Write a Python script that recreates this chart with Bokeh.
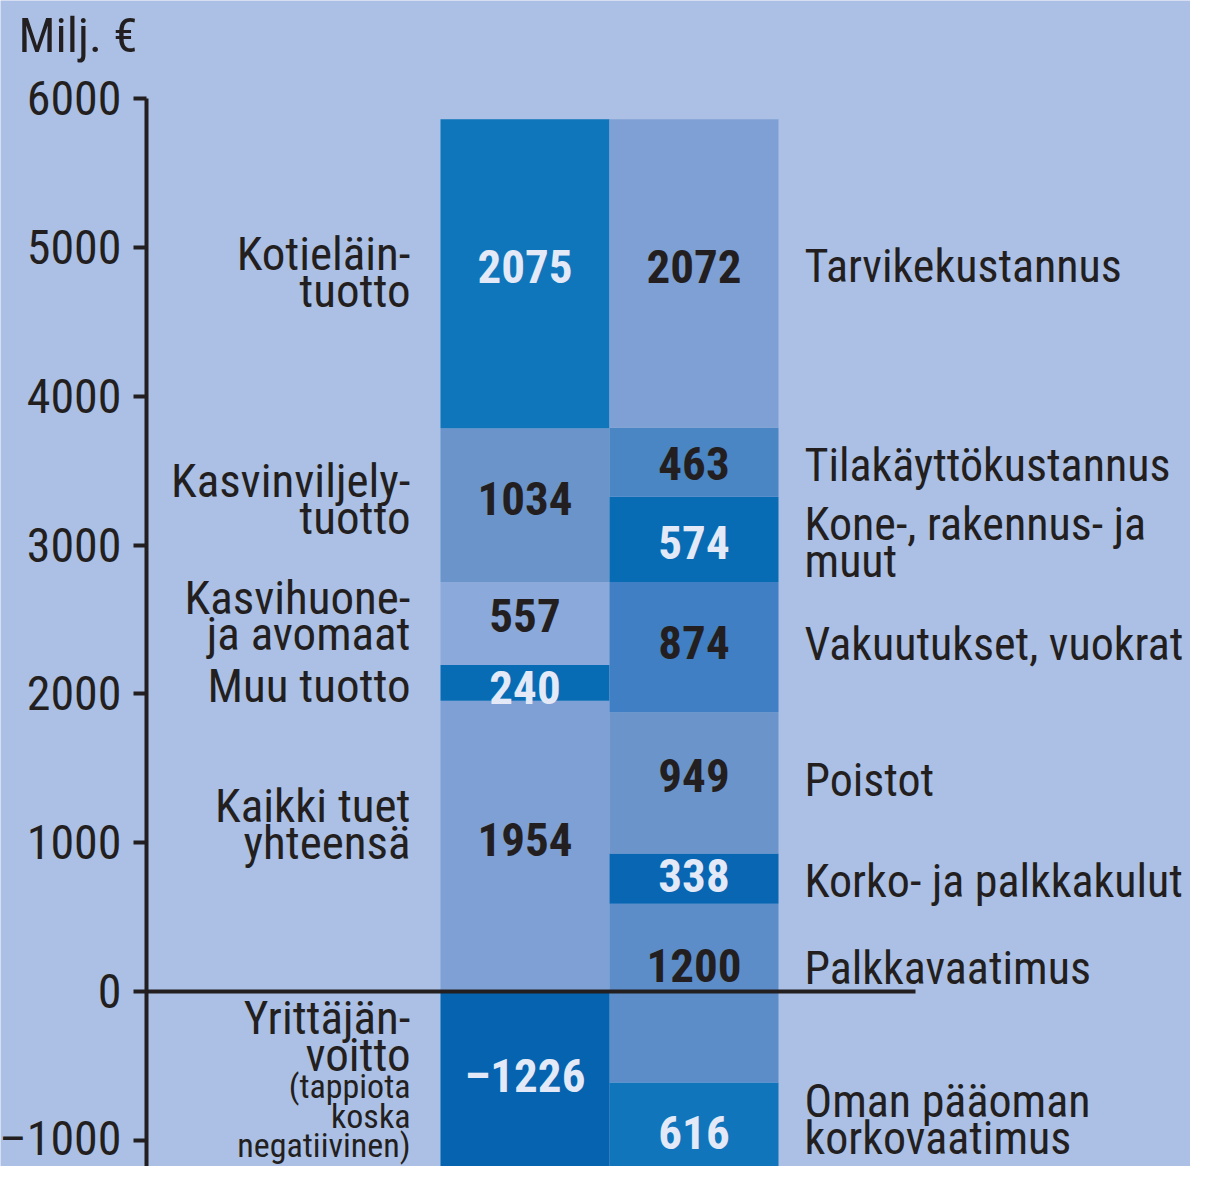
import numpy as np
from bokeh.plotting import figure
from bokeh.models import Range1d, LinearAxis, FixedTicker, ColumnDataSource
from bokeh.core.properties import value
from bokeh.embed import file_html
from bokeh.resources import INLINE

# ---------------- data ----------------
income_labels = ["Kaikki tuet\nyhteensä", "Muu tuotto", "Kasvihuone-\nja avomaat",
                 "Kasvinviljely-\ntuotto", "Kotieläin-\ntuotto"]
income_values = [1954, 240, 557, 1034, 2075]

profit_label = "Yrittäjän-\nvoitto"
profit_note = "(tappiota\nkoska\nnegatiivinen)"
profit_value = -1226

cost_labels = ["Oman pääoman\nkorkovaatimus", "Palkkavaatimus", "Korko- ja palkkakulut",
               "Poistot", "Vakuutukset, vuokrat", "Kone-, rakennus- ja\nmuut",
               "Tilakäyttökustannus", "Tarvikekustannus"]
cost_values = [616, 1200, 338, 949, 874, 574, 463, 2072]

y_ticks = [-1000, 0, 1000, 2000, 3000, 4000, 5000, 6000]
y_unit = "Milj. €"

# ---------------- style ----------------
FONT_NAME = "Roboto Condensed"
FONT = value(FONT_NAME)
DARK = "#231f20"
LIGHT = "#e3e9f6"
BG = "#abc0e4"

income_colors = ["#7fa0d4", "#086cb5", "#8ba9da", "#6b94ca", "#0f76bb"]
income_text_colors = [DARK, LIGHT, DARK, DARK, LIGHT]
income_value_dy = [-7, 5, -8, -7, -7]
income_label_dy = [-22, 3, -8, -6, -2]

profit_color = "#0563af"

cost_colors = ["#1075bb", "#5c8dc9", "#0866b2", "#6b94ca", "#407fc3", "#086cb5",
               "#4a85c4", "#7fa0d4"]
cost_text_colors = [LIGHT, DARK, LIGHT, DARK, DARK, LIGHT, DARK, DARK]
cost_value_dy = [4, -28, -3, -7, -5, 3, 1, -7]
cost_label_dy = [-9, -25, 2, -3, -3, 3, 3, -7]

X_AXIS = 146
X_LEFT, X_RIGHT, BAR_W = 524.5, 693.5, 169
X_LLAB, X_RLAB = 410, 804
ZERO_END = 915

# ---------------- stacking ----------------
inc_v = np.array(income_values, dtype=float)
inc_top = np.cumsum(inc_v)
inc_bot = inc_top - inc_v

cst_v = np.array(cost_values, dtype=float)
cst_top = profit_value + np.cumsum(cst_v)
cst_bot = cst_top - cst_v

def fmt(v):
    return ("–%d" % abs(v)) if v < 0 else "%d" % v

inc_src = ColumnDataSource(dict(
    x=[X_LEFT] * len(inc_v), top=inc_top, bottom=inc_bot, color=income_colors,
    mid=(inc_top + inc_bot) / 2, txt=[fmt(v) for v in income_values],
    tcol=income_text_colors, vdy=income_value_dy, lab=income_labels,
    ldy=income_label_dy, lx=[X_LLAB] * len(inc_v)))

cst_src = ColumnDataSource(dict(
    x=[X_RIGHT] * len(cst_v), top=cst_top, bottom=cst_bot, color=cost_colors,
    mid=(cst_top + cst_bot) / 2, txt=[fmt(v) for v in cost_values],
    tcol=cost_text_colors, vdy=cost_value_dy, lab=cost_labels,
    ldy=cost_label_dy, lx=[X_RLAB] * len(cst_v)))

prf_src = ColumnDataSource(dict(
    x=[X_LEFT], top=[0], bottom=[profit_value], color=[profit_color],
    mid=[profit_value / 2], txt=[fmt(profit_value)]))

# ---------------- figure ----------------
PX = 0.14886  # pixels per million euro
ZERO_PX = 991.1
H = 1166
p = figure(width=1190, height=H, x_range=Range1d(0, 1190),
           y_range=Range1d(-(H - ZERO_PX) / PX, ZERO_PX / PX),
           output_backend="svg", toolbar_location=None, x_axis_location=None,
           y_axis_location=None, min_border=0)
p.background_fill_color = BG
p.border_fill_color = BG
p.outline_line_color = None
p.grid.visible = False

yaxis = LinearAxis(fixed_location=X_AXIS, ticker=FixedTicker(ticks=y_ticks),
                   bounds=(-(H - ZERO_PX) / PX, 6000))
yaxis.major_label_overrides = {-1000: "–1000"}
yaxis.axis_line_width = 4
yaxis.axis_line_color = DARK
yaxis.major_tick_line_width = 4
yaxis.major_tick_line_color = DARK
yaxis.major_tick_out = 13
yaxis.major_tick_in = 0
yaxis.minor_tick_line_color = None
yaxis.major_label_standoff = 12
yaxis.major_label_text_font = FONT_NAME
yaxis.major_label_text_font_size = "48px"
yaxis.major_label_text_color = DARK
p.add_layout(yaxis, "left")

for src in (inc_src, cst_src, prf_src):
    p.vbar(x="x", top="top", bottom="bottom", width=BAR_W, fill_color="color",
           line_color=None, source=src)

# zero line
p.segment(x0=[X_AXIS], y0=[0], x1=[ZERO_END], y1=[0], line_color=DARK, line_width=4)

# value labels
for src in (inc_src, cst_src):
    p.text(x="x", y="mid", text="txt", source=src, text_color="tcol", text_font=FONT,
           text_font_style="bold", text_font_size="47px", text_align="center",
           text_baseline="middle", y_offset="vdy")
p.text(x="x", y="mid", text="txt", source=prf_src, text_color=LIGHT, text_font=FONT,
       text_font_style="bold", text_font_size="47px", text_align="center",
       text_baseline="middle", y_offset=-7)

# category labels
p.text(x="lx", y="mid", text="lab", source=inc_src, text_color=DARK, text_font=FONT,
       text_font_size="47px", text_align="right", text_baseline="middle",
       text_line_height=0.67, y_offset="ldy")
p.text(x="lx", y="mid", text="lab", source=cst_src, text_color=DARK, text_font=FONT,
       text_font_size="46px", text_align="left", text_baseline="middle",
       text_line_height=0.68, y_offset="ldy")
p.text(x=[X_LLAB], y=[profit_value / 2], text=[profit_label], text_color=DARK, text_font=FONT,
       text_font_size="47px", text_align="right", text_baseline="middle",
       text_line_height=0.67, y_offset=-47)
p.text(x=[X_LLAB], y=[profit_value / 2], text=[profit_note], text_color=DARK, text_font=FONT,
       text_font_size="34px", text_align="right", text_baseline="middle",
       text_line_height=0.74, y_offset=33)

# unit label
p.text(x=[18], y=[y_ticks[-1]], text=[y_unit], text_color=DARK, text_font=FONT,
       text_font_size="49px", text_align="left", text_baseline="middle", y_offset=-63)

open("out.html", "w").write(file_html(p, INLINE))
